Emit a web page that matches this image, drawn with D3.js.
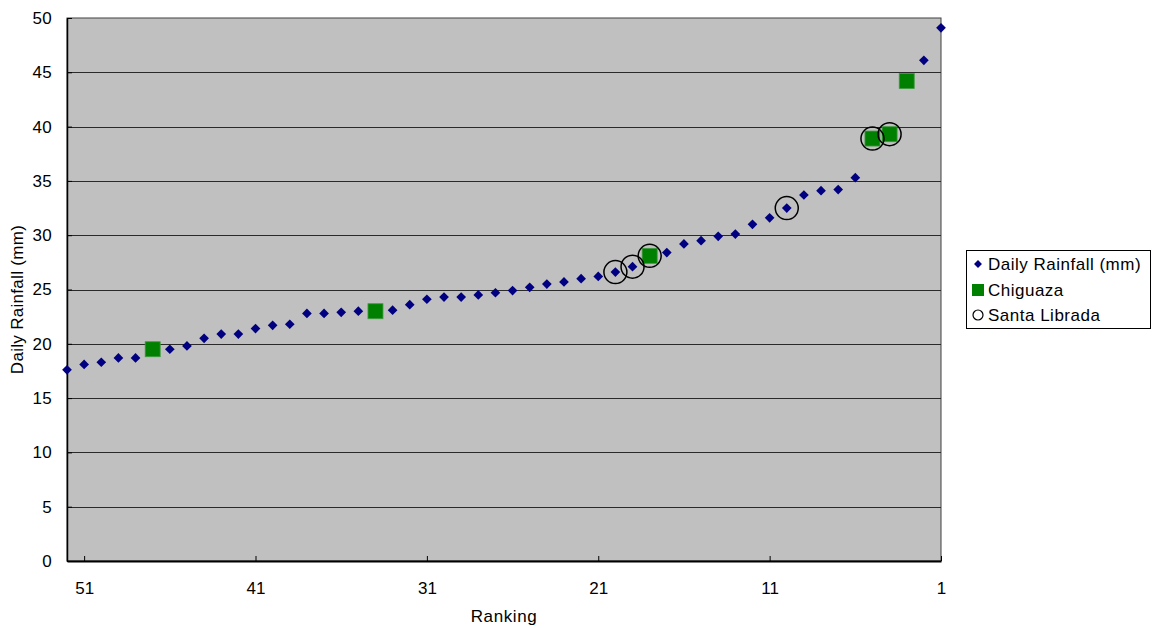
<!DOCTYPE html>
<html>
<head>
<meta charset="utf-8">
<script src="https://cdn.jsdelivr.net/npm/d3@7"></script>
<style>
  html, body { margin: 0; padding: 0; background: #ffffff; }
  svg { display: block; }
  text { font-family: "Liberation Sans", Arial, sans-serif; fill: #000; }
</style>
</head>
<body>
<svg id="chart" width="1155" height="628"></svg>
<script>
// Ranking (1 = wettest day) and daily rainfall in mm
const ranks = d3.range(1, 53);
const rainfall = [
  49.1, 46.1, 44.2, 39.3, 38.9, 35.3, 34.2, 34.1, 33.7, 32.5,
  31.6, 31.0, 30.1, 29.9, 29.5, 29.2, 28.4, 28.1, 27.1, 26.6,
  26.2, 26.0, 25.7, 25.5, 25.2, 24.9, 24.7, 24.5, 24.3, 24.3,
  24.1, 23.6, 23.1, 23.0, 23.0, 22.9, 22.8, 22.8, 21.8, 21.7,
  21.4, 20.9, 20.9, 20.5, 19.8, 19.5, 19.5, 18.7, 18.7, 18.3,
  18.1, 17.6
];
// Ranks of the days recorded at each station
const chiguazaRanks = [3, 4, 5, 18, 34, 47];
const santaLibradaRanks = [4, 5, 10, 18, 19, 20];

const xTicks = [51, 41, 31, 21, 11, 1];
const yTicks = [0, 5, 10, 15, 20, 25, 30, 35, 40, 45, 50];
const legendLabels = ["Daily Rainfall (mm)", "Chiguaza", "Santa Librada"];

const svg = d3.select("#chart");
const plot = { left: 67, right: 941, top: 18, bottom: 561 };

const x = d3.scaleLinear().domain([52, 1]).range([plot.left, plot.right]);
const y = d3.scaleLinear().domain([0, 50]).range([plot.bottom, plot.top]);

const points = ranks.map((r, i) => ({ rank: r, value: rainfall[i] }));
const valueAt = r => rainfall[r - 1];

// plot background
svg.append("rect")
  .attr("x", plot.left).attr("y", plot.top)
  .attr("width", plot.right - plot.left).attr("height", plot.bottom - plot.top)
  .attr("fill", "#c0c0c0")
  .attr("stroke", "#404040").attr("stroke-width", 1);

// horizontal gridlines
svg.append("g")
  .selectAll("line")
  .data(yTicks.filter(t => t > 0 && t < 50))
  .join("line")
  .attr("x1", plot.left).attr("x2", plot.right)
  .attr("y1", d => Math.round(y(d)) + 0.5).attr("y2", d => Math.round(y(d)) + 0.5)
  .attr("stroke", "#2a2a2a").attr("stroke-width", 1);

// y axis
const yAxis = svg.append("g")
  .attr("transform", `translate(${plot.left},0)`)
  .call(d3.axisLeft(y).tickValues(yTicks).tickSizeInner(-5).tickSizeOuter(0).tickPadding(15));
yAxis.select(".domain").attr("stroke", "#000").attr("stroke-width", 1.5);
yAxis.selectAll(".tick line").attr("stroke", "#000");
yAxis.selectAll(".tick text")
  .style("font-family", "'Liberation Sans', Arial, sans-serif")
  .style("font-size", "17px").style("letter-spacing", "0.3px").attr("fill", "#000");

// x axis
const xAxis = svg.append("g")
  .attr("transform", `translate(0,${plot.bottom})`)
  .call(d3.axisBottom(x).tickValues(xTicks).tickFormat(d3.format("d"))
    .tickSizeInner(-5).tickSizeOuter(0).tickPadding(21));
xAxis.select(".domain").attr("stroke", "#000").attr("stroke-width", 2);
xAxis.selectAll(".tick line").attr("stroke", "#000");
xAxis.selectAll(".tick text")
  .style("font-family", "'Liberation Sans Narrow', 'Liberation Sans', Arial, sans-serif")
  .style("font-size", "17px").attr("fill", "#000");

// axis titles
svg.append("text")
  .attr("x", (plot.left + plot.right) / 2).attr("y", 622)
  .attr("text-anchor", "middle")
  .style("font-size", "17px").style("letter-spacing", "0.6px")
  .text("Ranking");

svg.append("text")
  .attr("transform", `translate(23,${(plot.top + plot.bottom) / 2 + 10}) rotate(-90)`)
  .attr("text-anchor", "middle")
  .style("font-size", "17px").style("letter-spacing", "0.3px")
  .text("Daily Rainfall (mm)");

const diamond = d3.symbol().type(d3.symbolDiamond2).size(60);

// all days: navy diamonds
svg.append("g")
  .selectAll("path")
  .data(points)
  .join("path")
  .attr("d", diamond)
  .attr("transform", d => `translate(${x(d.rank)},${y(d.value)})`)
  .attr("fill", "#000080");

// Chiguaza: green squares
const sq = 15;
svg.append("g")
  .selectAll("rect")
  .data(chiguazaRanks)
  .join("rect")
  .attr("x", r => x(r) - sq / 2).attr("y", r => y(valueAt(r)) - sq / 2)
  .attr("width", sq).attr("height", sq)
  .attr("fill", "#008000")
  .attr("stroke", "#3f9a3f").attr("stroke-width", 0.8);

// Santa Librada: open circles
svg.append("g")
  .selectAll("circle")
  .data(santaLibradaRanks)
  .join("circle")
  .attr("cx", r => x(r)).attr("cy", r => y(valueAt(r)))
  .attr("r", 11.5)
  .attr("fill", "none")
  .attr("stroke", "#000").attr("stroke-width", 1.5);

// legend
const legend = svg.append("g").attr("transform", "translate(966,250)");
legend.append("rect")
  .attr("x", 0.5).attr("y", 0.5).attr("width", 184).attr("height", 78)
  .attr("fill", "#fff").attr("stroke", "#000").attr("stroke-width", 1);

const rowY = [14, 40, 65];
legend.append("path")
  .attr("d", d3.symbol().type(d3.symbolDiamond2).size(40))
  .attr("transform", `translate(12,${rowY[0]})`)
  .attr("fill", "#000080");
legend.append("rect")
  .attr("x", 6).attr("y", rowY[1] - 6).attr("width", 12).attr("height", 12)
  .attr("fill", "#008000");
legend.append("circle")
  .attr("cx", 12).attr("cy", rowY[2]).attr("r", 5)
  .attr("fill", "none").attr("stroke", "#000").attr("stroke-width", 1.2);

legend.selectAll("text.lbl")
  .data(legendLabels)
  .join("text")
  .attr("class", "lbl")
  .attr("x", 22).attr("y", (d, i) => rowY[i])
  .attr("dy", "0.36em")
  .style("font-size", "17px").style("letter-spacing", "0.5px")
  .text(d => d);
</script>
</body>
</html>
